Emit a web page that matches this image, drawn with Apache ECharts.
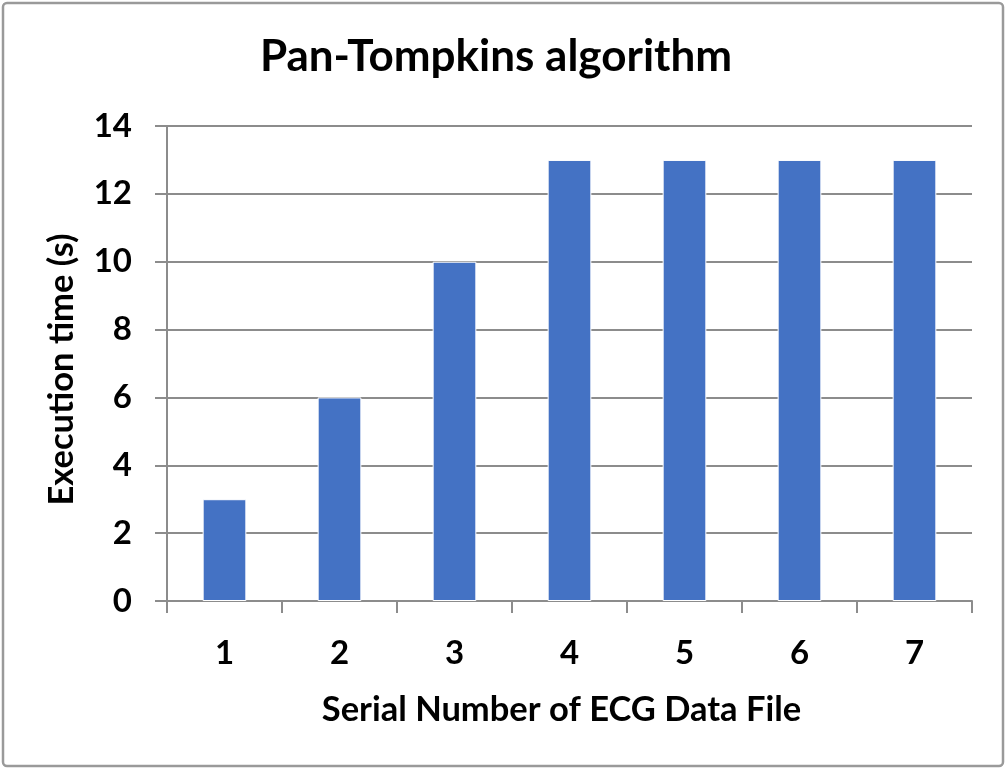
<!DOCTYPE html>
<html>
<head>
<meta charset="utf-8">
<script src="https://cdn.jsdelivr.net/npm/echarts@6/dist/echarts.min.js"></script>
<style>
  html, body { margin: 0; padding: 0; background: #fff; }
  #main { width: 1006px; height: 769px; }
</style>
</head>
<body>
<div id="main"></div>
<script>
// data
const fileNumbers = ["1", "2", "3", "4", "5", "6", "7"];
const execTimes = [3, 6, 10, 13, 13, 13, 13];

const chart = echarts.init(document.getElementById("main"));
const font = "Lato";
const gray = "#8c8c8c";

const option = {
  backgroundColor: "#fff",
  textStyle: { fontFamily: font },
  graphic: [
    {
      type: "rect",
      shape: { x: 3, y: 3, width: 1000, height: 763, r: 4 },
      style: { fill: "none", stroke: "#9a9a9a", lineWidth: 2.5 },
      silent: true,
      z: -1,
    },
  ],
  title: {
    text: "Pan-Tompkins algorithm",
    left: 491,
    top: 30,
    textAlign: "center",
    textStyle: {
      fontFamily: font,
      fontSize: 44,
      fontWeight: "bold",
      color: "#000",
    },
  },
  grid: { left: 167, right: 34, top: 126, bottom: 168, containLabel: false },
  xAxis: {
    type: "category",
    data: fileNumbers,
    name: "Serial Number of ECG Data File",
    nameLocation: "middle",
    nameGap: 91,
    nameTextStyle: {
      fontFamily: font, fontSize: 34.5, fontWeight: "bold", color: "#000",
      padding: [0, 16, 0, 0],
    },
    axisLine: { lineStyle: { color: gray, width: 2 } },
    axisTick: { show: true, length: 12, alignWithLabel: false, lineStyle: { color: gray, width: 2 } },
    axisLabel: { margin: 36, fontFamily: font, fontSize: 33, fontWeight: "bold", color: "#000" },
  },
  yAxis: {
    type: "value",
    min: 0,
    max: 14,
    interval: 2,
    name: "Execution time (s)",
    nameLocation: "middle",
    nameGap: 88,
    nameTextStyle: {
      fontFamily: font, fontSize: 34.5, fontWeight: "bold", color: "#000",
      padding: [0, 12, 0, 0],
    },
    axisLine: { show: true, lineStyle: { color: gray, width: 2 } },
    axisTick: { show: true, length: 12, lineStyle: { color: gray, width: 2 } },
    splitLine: { show: true, lineStyle: { color: gray, width: 2 } },
    axisLabel: { margin: 35, fontFamily: font, fontSize: 33, fontWeight: "bold", color: "#000" },
  },
  series: [
    {
      type: "bar",
      data: execTimes,
      barWidth: "38%",
      itemStyle: { color: "#4472C4", borderColor: "#fff", borderWidth: 1 },
      animation: false,
    },
  ],
  animation: false,
};

chart.setOption(option);
</script>
</body>
</html>
